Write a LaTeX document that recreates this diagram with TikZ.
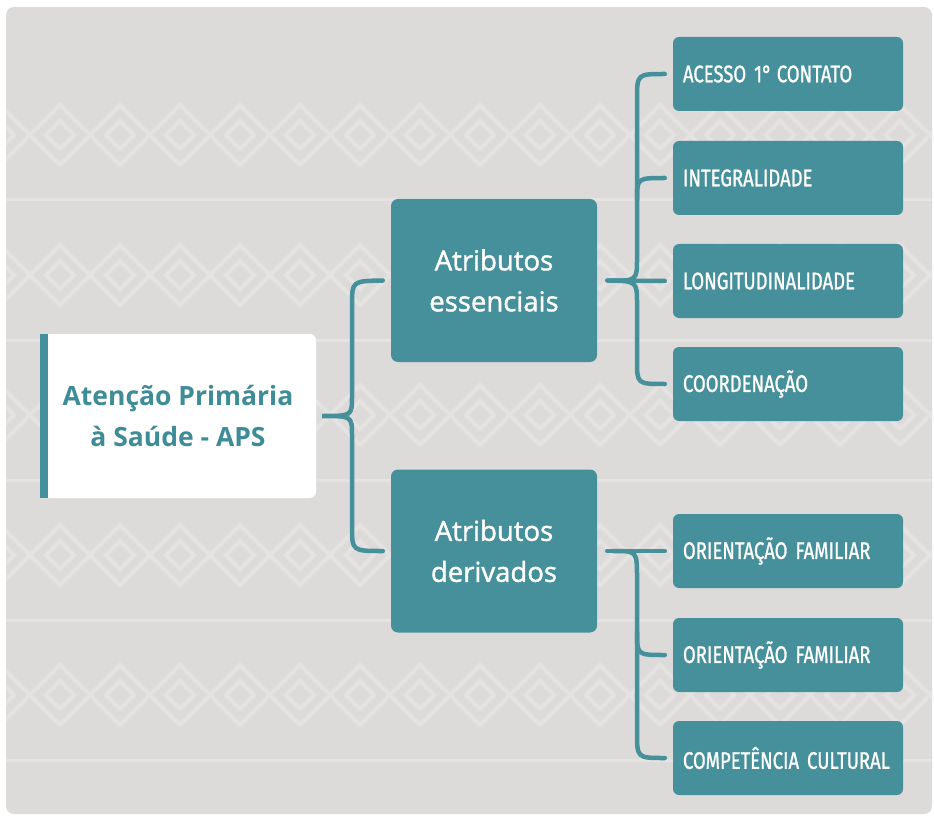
\documentclass[tikz,border=0pt]{standalone}
\usepackage{fontspec}
\setsansfont{Open Sans}
\newfontfamily\leaffont[FakeStretch=0.77,FakeBold=1,Numbers=Proportional]{Fira Sans}
\newfontfamily\groupfont[FakeBold=1.4]{Open Sans}
\usepackage{tikz}

\definecolor{apsteal}{HTML}{45909B}
\definecolor{apstext}{HTML}{3E8C97}
\definecolor{apsbg}{HTML}{DCDBD9}
\definecolor{apsweave}{HTML}{E4E3E1}

\newcommand{\leafsize}{\leaffont\fontsize{24}{26}\selectfont}

\tikzset{
  rootbox/.style={fill=white,rounded corners=6pt,minimum width=276pt,minimum height=164pt,
    align=center,text=apstext,font=\sffamily\bfseries\fontsize{26.5}{41}\selectfont},
  groupbox/.style={fill=apsteal,rounded corners=7pt,minimum width=206pt,minimum height=163pt,
    align=center,text=white,font=\groupfont\fontsize{27.5}{41}\selectfont},
  leafbox/.style={fill=apsteal,rounded corners=6pt,text width=210pt,inner xsep=10pt,
    minimum height=74pt,align=left,text=white,font=\leafsize},
  brace/.style={draw=apsteal,line width=4.5pt,line cap=round},
  weave/.style={draw=apsweave,line width=4pt}
}

\begin{document}
\begin{tikzpicture}[x=1pt,y=-1pt]
\useasboundingbox (0,0) rectangle (934,818);
\fill[white] (0,0) rectangle (934,818);
\fill[apsbg,rounded corners=8pt] (6,7) rectangle (932,814);

% fundo tramado
\begin{scope}
\clip[rounded corners=8pt] (6,7) rectangle (932,814);
\foreach \y in {135,275,415,555,695} {
  \draw[apsweave,line width=3pt] (6,\y+65) -- (932,\y+65);
  \foreach \x in {0,60,...,960} {
    \draw[weave] (\x,\y-30) -- (\x+30,\y) -- (\x,\y+30) -- (\x-30,\y) -- cycle;
    \draw[weave] (\x,\y-14) -- (\x+14,\y) -- (\x,\y+14) -- (\x-14,\y) -- cycle;
  }
}
\end{scope}

\node[rootbox] (aps) at (178,416) {Atenção Primária\\à Saúde - APS};
\fill[apsteal] (aps.north west) rectangle ([xshift=8pt]aps.south west);

\node[groupbox] (ess) at (494,280.5) {Atributos\\essenciais};
\node[groupbox] (der) at (494,551) {Atributos\\derivados};

\node[leafbox] (acesso) at (788,74) {ACESSO 1°\kern-3pt{} CONTATO};
\node[leafbox] (integ) at (788,178) {INTEGRALIDADE};
\node[leafbox] (longi) at (788,281) {LONGITUDINALIDADE};
\node[leafbox] (coord) at (788,384) {COORDENAÇÃO};
\node[leafbox] (famil) at (788,551) {ORIENTAÇÃO FAMILIAR};
\node[leafbox] (famil2) at (788,655) {ORIENTAÇÃO FAMILIAR};
\node[leafbox] (cultural) at (788,758) {COMPETÊNCIA CULTURAL};

% chave da APS
\draw[brace] ([xshift=-8pt]ess.west) .. controls (352,281) .. (352,306) -- (352,396)
  .. controls (352,416) .. ([xshift=6pt]aps.east) .. controls (352,416) .. (352,436)
  -- (352,526) .. controls (352,551) .. ([xshift=-8pt]der.west);

% chave dos essenciais
\draw[brace] ([xshift=-8pt]acesso.west) .. controls (637,74) .. (637,100) -- (637,258)
  .. controls (637,281) .. ([xshift=10pt]ess.east) .. controls (637,281) .. (637,304)
  -- (637,360) .. controls (637,384) .. ([xshift=-8pt]coord.west);
\draw[brace] (637,200) .. controls (637,178) .. ([xshift=-8pt]integ.west);
\draw[brace] ([xshift=10pt]ess.east) -- ([xshift=-8pt]longi.west);

% chave dos derivados
\draw[brace] ([xshift=10pt]der.east) -- ([xshift=-8pt]famil.west);
\draw[brace] ([xshift=16pt]der.east) .. controls (637,551) .. (637,578) -- (637,732)
  .. controls (637,758) .. ([xshift=-8pt]cultural.west);
\draw[brace] (637,632) .. controls (637,655) .. ([xshift=-8pt]famil2.west);
\end{tikzpicture}
\end{document}
